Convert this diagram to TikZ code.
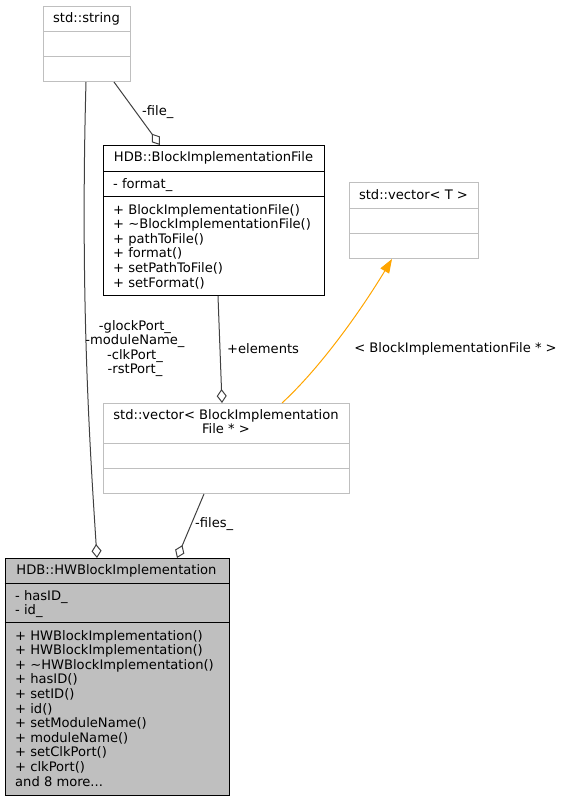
\documentclass[tikz,border=0pt]{standalone}
\usepackage{fontspec}
\setmainfont{DejaVu Sans}
\usetikzlibrary{arrows.meta}
\definecolor{edgegray}{HTML}{404040}
\definecolor{boxgray}{HTML}{BFBFBF}
\definecolor{inherit}{HTML}{FFA500}
\begin{document}
\begin{tikzpicture}[
      x=1pt, y=-1pt,
      every node/.style={font=\fontsize{13.1}{14.6}\selectfont, inner sep=0pt},
      % class boxes
      classbox/.style={draw=black, line width=1pt, rectangle, anchor=north west},
      extbox/.style={classbox, draw=boxgray},
      focusbox/.style={classbox, fill=boxgray},
      title/.style={anchor=center, align=center},
      members/.style={anchor=north west, align=left},
      sep/.style={line width=1pt},
      % connectors
      usage/.style={draw=edgegray, line width=1pt, -{Diamond[open, length=14pt, width=10pt]}},
      derived/.style={draw=inherit, line width=1pt, -{Triangle[length=14pt, width=10pt]}},
      elabel/.style={anchor=west}
  ]
  \useasboundingbox (0,0) rectangle (563,801);

  %%%%%%%%%%%%%%%%%%%%%%%%%%%%%%%%%%%%%%%%%%%%%%%%%%%%%%%%
  % std::string
  %%%%%%%%%%%%%%%%%%%%%%%%%%%%%%%%%%%%%%%%%%%%%%%%%%%%%%%%
  \node[extbox, minimum width=87pt, minimum height=75pt] (string) at (43,6) {};
  \node[title] (stringT) at (86.5,18.5) {std::string};
  \draw[sep, boxgray] (43,31) -- (130,31);
  \draw[sep, boxgray] (43,56) -- (130,56);

  %%%%%%%%%%%%%%%%%%%%%%%%%%%%%%%%%%%%%%%%%%%%%%%%%%%%%%%%
  % HDB::BlockImplementationFile
  %%%%%%%%%%%%%%%%%%%%%%%%%%%%%%%%%%%%%%%%%%%%%%%%%%%%%%%%
  \node[classbox, minimum width=221pt, minimum height=150pt] (bif) at (103,145) {};
  \node[title] (bifT) at (213.5,158) {HDB::BlockImplementationFile};
  \draw[sep] (103,171) -- (324,171);
  \node[members] (bifA) at (113,178) {- format\_};
  \draw[sep] (103,196) -- (324,196);
  \node[members] (bifM) at (113,204) {%
    + BlockImplementationFile()\\
    + \textasciitilde BlockImplementationFile()\\
    + pathToFile()\\
    + format()\\
    + setPathToFile()\\
    + setFormat()};

  %%%%%%%%%%%%%%%%%%%%%%%%%%%%%%%%%%%%%%%%%%%%%%%%%%%%%%%%
  % std::vector< T >
  %%%%%%%%%%%%%%%%%%%%%%%%%%%%%%%%%%%%%%%%%%%%%%%%%%%%%%%%
  \node[extbox, minimum width=129pt, minimum height=76pt] (vecT) at (349,182) {};
  \node[title] (vecTT) at (413.5,195) {std::vector< T >};
  \draw[sep, boxgray] (349,208) -- (478,208);
  \draw[sep, boxgray] (349,233) -- (478,233);

  %%%%%%%%%%%%%%%%%%%%%%%%%%%%%%%%%%%%%%%%%%%%%%%%%%%%%%%%
  % std::vector< BlockImplementationFile * >
  %%%%%%%%%%%%%%%%%%%%%%%%%%%%%%%%%%%%%%%%%%%%%%%%%%%%%%%%
  \node[extbox, minimum width=246pt, minimum height=90pt] (vecBIF) at (103,403) {};
  \node[title, anchor=north] (vecBIFT) at (226,409) {std::vector< BlockImplementation\\File * >};
  \draw[sep, boxgray] (103,443) -- (349,443);
  \draw[sep, boxgray] (103,468) -- (349,468);

  %%%%%%%%%%%%%%%%%%%%%%%%%%%%%%%%%%%%%%%%%%%%%%%%%%%%%%%%
  % HDB::HWBlockImplementation (the documented class)
  %%%%%%%%%%%%%%%%%%%%%%%%%%%%%%%%%%%%%%%%%%%%%%%%%%%%%%%%
  \node[focusbox, minimum width=224pt, minimum height=237pt] (hwblock) at (4.5,558) {};
  \node[title] (hwblockT) at (116.5,570.5) {HDB::HWBlockImplementation};
  \draw[sep] (4.5,583) -- (228.5,583);
  \node[members] (hwblockA) at (15,590) {- hasID\_\\- id\_};
  \draw[sep] (4.5,622) -- (228.5,622);
  \node[members] (hwblockM) at (15,630) {%
    + HWBlockImplementation()\\
    + HWBlockImplementation()\\
    + \textasciitilde HWBlockImplementation()\\
    + hasID()\\
    + setID()\\
    + id()\\
    + setModuleName()\\
    + moduleName()\\
    + setClkPort()\\
    + clkPort()\\
    and 8 more...};

  %%%%%%%%%%%%%%%%%%%%%%%%%%%%%%%%%%%%%%%%%%%%%%%%%%%%%%%%
  % Connectors
  %%%%%%%%%%%%%%%%%%%%%%%%%%%%%%%%%%%%%%%%%%%%%%%%%%%%%%%%
  % string members of HWBlockImplementation
  \draw[usage] (string.south -| 86,0) .. controls (80,300) and (90,450) .. (hwblock.north -| 97,0);
  \node[title] (portsL) at (135,348.5) {-glockPort\_\\-moduleName\_\\-clkPort\_\\-rstPort\_};

  % file path of BlockImplementationFile
  \draw[usage] (string.south -| 114,0) -- (bif.north -| 160,0);
  \node[elabel] (fileL) at (142,112.5) {-file\_};

  % vector elements
  \draw[usage] (bif.south -| 218,0) -- (vecBIF.north -| 222,0);
  \node[elabel] (elementsL) at (227,348.5) {+elements};

  % template instance
  \draw[derived] (vecBIF.north -| 282,0) .. controls (320,368) and (360,312) .. (vecT.south -| 392,0);
  \node[title] (templL) at (455.5,348.5) {< BlockImplementationFile * >};

  % file list of HWBlockImplementation
  \draw[usage] (vecBIF.south -| 204,0) -- (hwblock.north -| 177,0);
  \node[elabel] (filesL) at (195,524) {-files\_};

\end{tikzpicture}
\end{document}
